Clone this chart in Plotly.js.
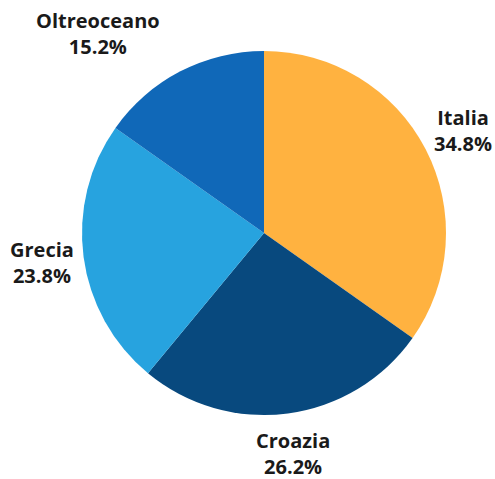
<!DOCTYPE html>
<html>
<head>
<meta charset="utf-8">
<script src="https://cdn.plot.ly/plotly-3.0.1.min.js"></script>
<style>html,body{margin:0;padding:0;background:#fff;}#chart{width:495px;height:479px;}</style>
</head>
<body>
<div id="chart"></div>
<script>
const categories = ["Italia", "Croazia", "Grecia", "Oltreoceano"];
const shares = [34.8, 26.2, 23.8, 15.2];
const sliceColors = ["#FFB240", "#08497E", "#27A3DF", "#1068B8"];

// layout settings (not data)
const W = 495, H = 479;
const M = { l: 82, r: 49, t: 51, b: 64 };
const labelDist = 1.23;             // label centre distance as fraction of radius
const labelNudgeX = [0, 0, 0, -63]; // collision shifts in px
const labelNudgeY = [0, -1, 0, -1];

const pw = W - M.l - M.r, ph = H - M.t - M.b;
const R = Math.min(pw, ph) / 2;
const cx = M.l + pw / 2, cy = M.t + ph / 2;

const total = shares.reduce((a, b) => a + b, 0);
let cum = 0;
const annotations = categories.map((name, i) => {
  const mid = (cum + shares[i] / 2) / total * 2 * Math.PI;
  cum += shares[i];
  const px = cx + Math.sin(mid) * R * labelDist + labelNudgeX[i];
  const py = cy - Math.cos(mid) * R * labelDist + labelNudgeY[i];
  return {
    xref: "paper", yref: "paper",
    x: (px - M.l) / pw, y: 1 - (py - M.t) / ph,
    xanchor: "center", yanchor: "middle",
    showarrow: false,
    borderpad: 0,
    text: "<b>" + name + "<br>" + (shares[i] / total * 100).toFixed(1) + "%</b>",
    font: { family: "Open Sans", size: 20, color: "#1a1a1a" },
    align: "center"
  };
});

const trace = {
  type: "pie",
  labels: categories,
  values: shares,
  sort: false,
  direction: "clockwise",
  rotation: 0,
  marker: { colors: sliceColors, line: { width: 0 } },
  textinfo: "none",
  hoverinfo: "none",
  showlegend: false
};

const layout = {
  width: W,
  height: H,
  margin: M,
  paper_bgcolor: "#fff",
  plot_bgcolor: "#fff",
  showlegend: false,
  annotations: annotations
};

Plotly.newPlot("chart", [trace], layout, { displayModeBar: false, staticPlot: true });
</script>
</body>
</html>
